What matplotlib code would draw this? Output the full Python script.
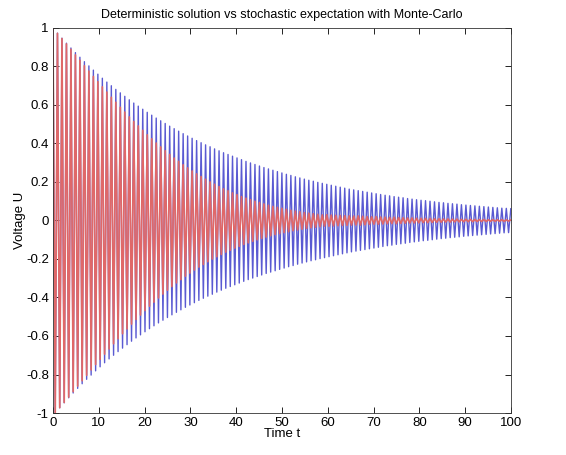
import numpy as np
import matplotlib
matplotlib.use("Agg")
import matplotlib.pyplot as plt

# ---- data ----
period = 0.98  # oscillation period (time units)

# deterministic solution: amplitude of each oscillation cycle (peak and trough magnitude)
det_amp = [1.000, 0.973, 0.947, 0.921, 0.896, 0.872, 0.848, 0.825, 0.803, 0.781,
           0.760, 0.739, 0.719, 0.700, 0.681, 0.663, 0.645, 0.627, 0.610, 0.594,
           0.578, 0.562, 0.547, 0.532, 0.518, 0.504, 0.490, 0.477, 0.464, 0.451,
           0.439, 0.427, 0.415, 0.404, 0.393, 0.383, 0.372, 0.362, 0.352, 0.343,
           0.334, 0.325, 0.316, 0.307, 0.299, 0.291, 0.283, 0.275, 0.268, 0.261,
           0.254, 0.247, 0.240, 0.234, 0.227, 0.221, 0.215, 0.209, 0.204, 0.198,
           0.193, 0.188, 0.183, 0.178, 0.173, 0.168, 0.163, 0.159, 0.155, 0.151,
           0.147, 0.143, 0.139, 0.135, 0.131, 0.128, 0.124, 0.121, 0.118, 0.114,
           0.111, 0.108, 0.105, 0.103, 0.100, 0.097, 0.094, 0.092, 0.089, 0.087,
           0.085, 0.082, 0.080, 0.078, 0.076, 0.074, 0.072, 0.070, 0.068, 0.066,
           0.064, 0.063, 0.061]

# stochastic expectation (Monte-Carlo): amplitude of each oscillation cycle
mc_amp = [1.000, 0.972, 0.945, 0.917, 0.889, 0.860, 0.832, 0.804, 0.776, 0.748,
          0.721, 0.694, 0.667, 0.640, 0.614, 0.588, 0.563, 0.538, 0.514, 0.491,
          0.468, 0.445, 0.424, 0.402, 0.382, 0.362, 0.343, 0.324, 0.307, 0.289,
          0.273, 0.257, 0.242, 0.228, 0.214, 0.200, 0.188, 0.176, 0.164, 0.154,
          0.143, 0.134, 0.124, 0.116, 0.108, 0.100, 0.093, 0.086, 0.079, 0.073,
          0.068, 0.063, 0.058, 0.053, 0.049, 0.045, 0.041, 0.038, 0.035, 0.032,
          0.029, 0.030, 0.028, 0.027, 0.026, 0.025, 0.024, 0.023, 0.024, 0.022,
          0.020, 0.019, 0.020, 0.018, 0.017, 0.016, 0.017, 0.015, 0.014, 0.013,
          0.013, 0.012, 0.011, 0.011, 0.010, 0.009, 0.009, 0.008, 0.008, 0.007,
          0.007, 0.006, 0.006, 0.006, 0.005, 0.005, 0.005, 0.004, 0.004, 0.004,
          0.004, 0.003, 0.003]

x_ticks = [0, 10, 20, 30, 40, 50, 60, 70, 80, 90, 100]
y_ticks = [-1, -0.8, -0.6, -0.4, -0.2, 0, 0.2, 0.4, 0.6, 0.8, 1]
y_tick_labels = ["-1", "-0.8", "-0.6", "-0.4", "-0.2", "0", "0.2", "0.4", "0.6", "0.8", "1"]


def zigzag(amps):
    """peaks at k*period, troughs half a period later"""
    t, v = [], []
    n = len(amps)
    for k, a in enumerate(amps):
        t.append(k * period)
        v.append(a)
        if k < n - 1:
            t.append((k + 0.5) * period)
            v.append(-a)
    return np.array(t), np.array(v)


plt.rcParams['font.family'] = ['Liberation Sans', 'DejaVu Sans']

fig = plt.figure(figsize=(5.66, 4.55), dpi=100)
ax = fig.add_axes([0.0936, 0.0923, 0.8092, 0.8462])

td, vd = zigzag(det_amp)
tm, vm = zigzag(mc_amp)
ax.plot(td, vd, color='#5a5ad2', lw=1.0)
ax.plot(tm, vm, color='#e06868', lw=1.25)

ax.set_xlim(0, 100)
ax.set_ylim(-1, 1)
ax.set_xticks(x_ticks)
ax.set_yticks(y_ticks)
ax.set_yticklabels(y_tick_labels)
ax.tick_params(direction='in', length=4, width=0.6, top=True, right=True,
               labelsize=9.5, colors='black', pad=3)
for s in ax.spines.values():
    s.set_linewidth(0.6)
    s.set_color('#333333')

ax.set_title("Deterministic solution vs stochastic expectation with Monte-Carlo",
             fontsize=9, pad=7)
ax.set_xlabel("Time t", fontsize=9.5, labelpad=-1)
ax.set_ylabel("Voltage U", fontsize=9.5, labelpad=0)

fig.savefig("out.png", dpi=100)
